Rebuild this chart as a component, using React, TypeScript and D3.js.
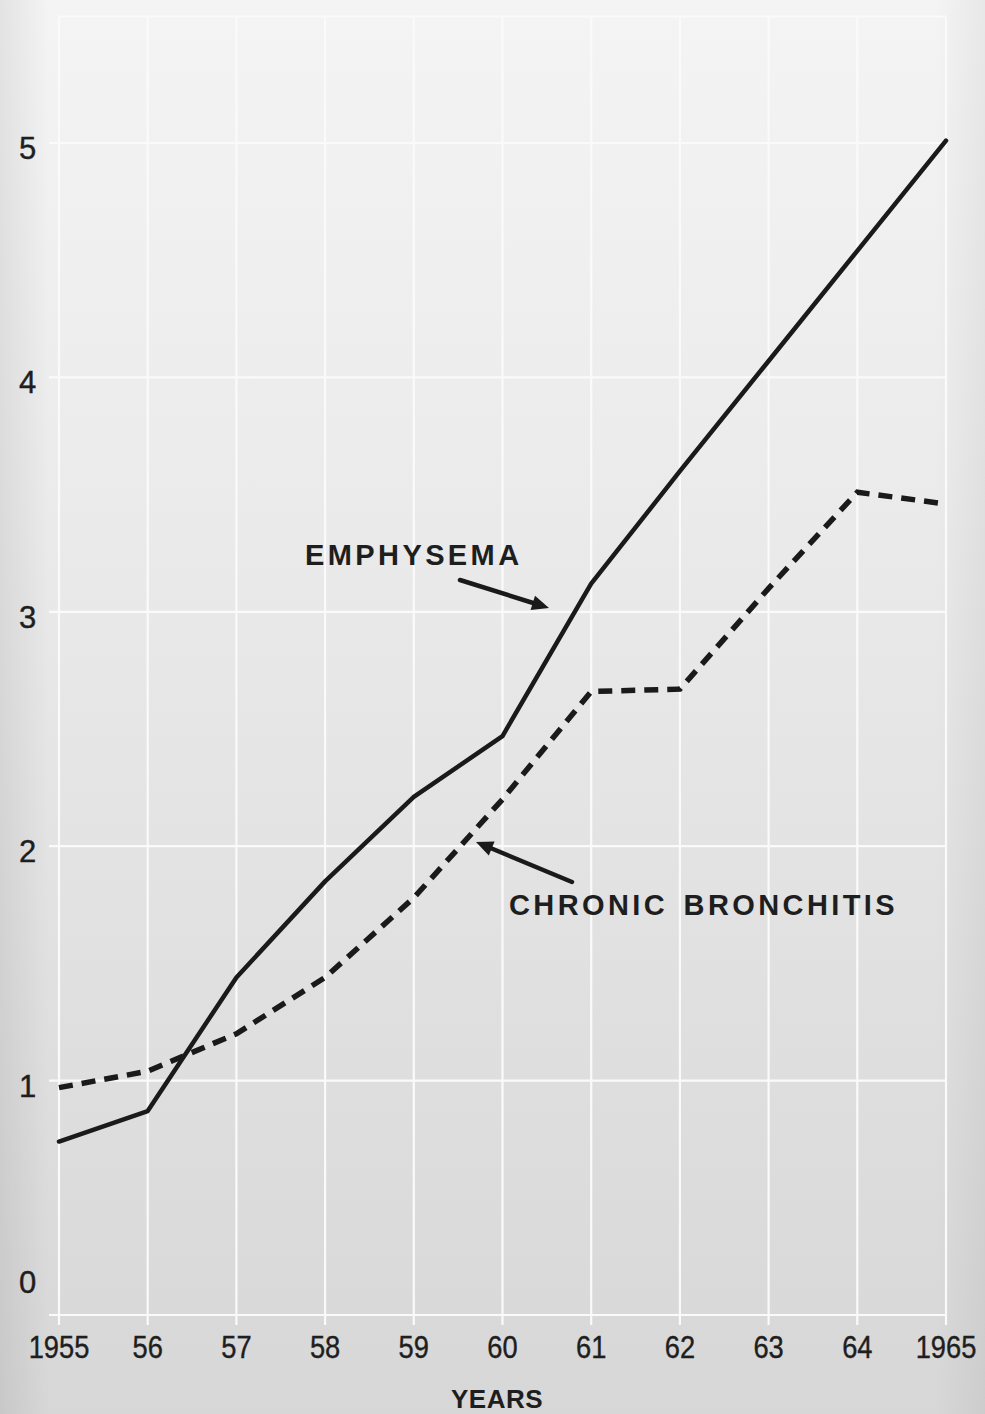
import React from "react";
import * as d3 from "d3";

const years = [1955, 1956, 1957, 1958, 1959, 1960, 1961, 1962, 1963, 1964, 1965];
const yearLabels = ["1955", "56", "57", "58", "59", "60", "61", "62", "63", "64", "1965"];
const emphysema = [0.74, 0.87, 1.44, 1.85, 2.21, 2.47, 3.12, 3.6, 4.07, 4.54, 5.01];
const bronchitis = [0.97, 1.04, 1.2, 1.44, 1.78, 2.2, 2.66, 2.67, 3.1, 3.51, 3.46];
const yTicks = [0, 1, 2, 3, 4, 5];

const W = 985;
const H = 1414;

function Arrow({ x1, y1, x2, y2 }: { x1: number; y1: number; x2: number; y2: number }) {
  const ang = Math.atan2(y2 - y1, x2 - x1);
  const len = 17;
  const half = 7.5;
  const bx = x2 - len * Math.cos(ang);
  const by = y2 - len * Math.sin(ang);
  const px = -Math.sin(ang) * half;
  const py = Math.cos(ang) * half;
  return (
    <g>
      <line x1={x1} y1={y1} x2={bx + 2 * Math.cos(ang)} y2={by + 2 * Math.sin(ang)} stroke="#1a1a1a" strokeWidth={4.5} strokeLinecap="round" />
      <polygon points={`${x2},${y2} ${bx + px},${by + py} ${bx - px},${by - py}`} fill="#1a1a1a" />
    </g>
  );
}

export default function App() {
  const x = d3.scaleLinear().domain([1955, 1965]).range([59, 946]);
  const y = d3.scaleLinear().domain([0, 5]).range([1315, 143]);
  const line = d3
    .line<number>()
    .x((_, i) => x(years[i]))
    .y((d) => y(d));

  const gridTop = y(5.54);
  const gridBottom = y(0);

  return (
    <svg width={W} height={H} style={{ position: "absolute", left: 0, top: 0 }} fontFamily="'Liberation Sans', Arial, sans-serif">
      <defs>
        <linearGradient id="bg" x1="0" y1="0" x2="0" y2="1">
          <stop offset="0" stopColor="#f4f4f4" />
          <stop offset="0.35" stopColor="#ebebeb" />
          <stop offset="0.7" stopColor="#e0e0e0" />
          <stop offset="1" stopColor="#d7d7d7" />
        </linearGradient>
        <linearGradient id="bgx" x1="0" y1="0" x2="1" y2="0">
          <stop offset="0" stopColor="#000" stopOpacity="0.07" />
          <stop offset="0.05" stopColor="#000" stopOpacity="0" />
          <stop offset="0.95" stopColor="#000" stopOpacity="0" />
          <stop offset="1" stopColor="#000" stopOpacity="0.05" />
        </linearGradient>
      </defs>
      <rect x={0} y={0} width={W} height={H} fill="url(#bg)" />
      <rect x={0} y={0} width={W} height={H} fill="url(#bgx)" />

      {/* vertical grid */}
      {years.map((yr) => (
        <line key={"v" + yr} x1={x(yr)} x2={x(yr)} y1={gridTop} y2={gridBottom + 10} stroke="#fafafa" strokeWidth={2.2} />
      ))}
      {/* horizontal grid */}
      {yTicks.map((t) => (
        <line key={"h" + t} x1={x(1955) - 10} x2={x(1965)} y1={y(t)} y2={y(t)} stroke="#fafafa" strokeWidth={2.2} />
      ))}
      <line x1={x(1955)} x2={x(1965)} y1={gridTop} y2={gridTop} stroke="#fafafa" strokeWidth={2} />

      {/* y labels */}
      {yTicks.map((t) => (
        <text key={"yl" + t} x={19} y={t === 0 ? y(t) - 22 : y(t) + 16} fontSize={31} fill="#1e1e1e" stroke="#1e1e1e" strokeWidth={0.4}>
          {t}
        </text>
      ))}
      {/* x labels */}
      {years.map((yr, i) => (
        <text key={"xl" + yr} x={x(yr)} y={1358} fontSize={31} fill="#1e1e1e" stroke="#1e1e1e" strokeWidth={0.4} textAnchor="middle" transform={`translate(${x(yr)},0) scale(0.88,1) translate(${-x(yr)},0)`}>
          {yearLabels[i]}
        </text>
      ))}
      <text x={497} y={1408} fontSize={26} fontWeight="bold" fill="#1e1e1e" textAnchor="middle" letterSpacing={0.5}>
        YEARS
      </text>

      {/* lines */}
      <path d={line(bronchitis) ?? ""} fill="none" stroke="#1a1a1a" strokeWidth={5.5} strokeDasharray="14 9" />
      <path d={line(emphysema) ?? ""} fill="none" stroke="#1a1a1a" strokeWidth={4.5} strokeLinejoin="round" strokeLinecap="round" />

      {/* annotations */}
      <text x={305} y={565} fontSize={29} fontWeight="bold" fill="#1e1e1e" letterSpacing={3.4}>
        EMPHYSEMA
      </text>
      <Arrow x1={460} y1={580} x2={549} y2={608} />
      <text x={509} y={915} fontSize={29} fontWeight="bold" fill="#1e1e1e" letterSpacing={3.4} wordSpacing={4}>
        CHRONIC BRONCHITIS
      </text>
      <Arrow x1={572} y1={882} x2={476} y2={842} />
    </svg>
  );
}
